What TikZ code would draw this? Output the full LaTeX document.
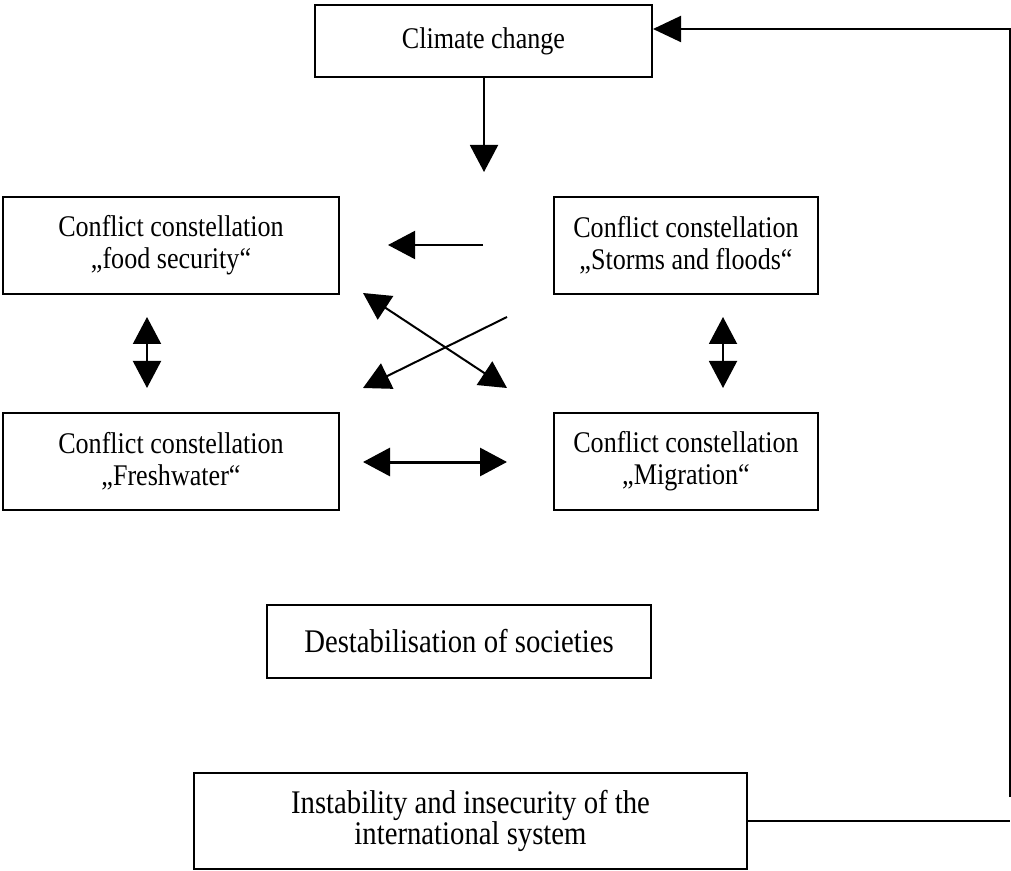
\documentclass[tikz,border=0pt]{standalone}
\usepackage{fontspec}
\setmainfont{Liberation Serif}[FakeStretch=0.87]
\usetikzlibrary{arrows.meta}
\begin{document}
\begin{tikzpicture}[x=0.5pt,y=-0.5pt,
  box/.style={draw,line width=1pt,align=center,inner sep=0pt,font=\fontsize{15}{16}\selectfont},
  bigtext/.style={font=\fontsize{16.5}{15.5}\selectfont},
  wide/.style={minimum width=168pt,minimum height=48.5pt},
  narrow/.style={minimum width=132pt,minimum height=48.5pt},
  conn/.style={line width=1pt},
  tip/.style={conn,-{Triangle[length=13.5pt,width=14pt]}},
  dtip/.style={conn,{Triangle[length=13.5pt,width=14pt]}-{Triangle[length=13.5pt,width=14pt]}}]
\useasboundingbox (0,0) rectangle (1011,871);

\node[box,minimum width=168.5pt,minimum height=36pt] (clim) at (483.5,41) {Climate change};
\node[box,wide] (food) at (171,245.5) {Conflict constellation\\„food security“};
\node[box,narrow] (storm) at (686,245.5) {Conflict constellation\\„Storms and floods“};
\node[box,wide] (fresh) at (171,461) {Conflict constellation\\„Freshwater“};
\node[box,narrow] (migr) at (686,461) {Conflict constellation\\„Migration“};
\node[box,bigtext,minimum width=192pt,minimum height=36.5pt] (dest) at (459,641.5) {Destabilisation of societies};
\node[box,bigtext,minimum width=276.5pt,minimum height=48pt] (inst) at (470.5,821) {Instability and insecurity of the\\international system};

% free ends
\coordinate (downend) at (484,172);
\coordinate (lstart) at (483,245);
\coordinate (lend) at (388,245);
\coordinate (xa1) at (363,293);
\coordinate (xa2) at (507,388);
\coordinate (xb1) at (507,317);
\coordinate (xb2) at (363,388);
\coordinate (h1) at (363,462);
\coordinate (h2) at (507,462);
\coordinate (vl1) at (147,317);
\coordinate (vl2) at (147,388);
\coordinate (vr1) at (723,317);
\coordinate (vr2) at (723,388);
\coordinate (fbbot) at (1010,821);
\coordinate (fbgap) at (1010,797);
\coordinate (fbtop) at (1010,29);

\draw[tip] (clim.south -| downend) -- (downend);
\draw[tip] (lstart) -- (lend);
\draw[dtip] (xa1) -- (xa2);
\draw[tip] (xb1) -- (xb2);
\draw[dtip,line width=1.5pt] (h1) -- (h2);
\draw[dtip] (vl1) -- (vl2);
\draw[dtip] (vr1) -- (vr2);

\draw[conn] (inst.east) -- (fbbot);
\draw[conn,-{Triangle[length=14pt,width=13pt]}] (fbgap) -- (fbtop) -- (fbtop -| clim.east);
\end{tikzpicture}
\end{document}
